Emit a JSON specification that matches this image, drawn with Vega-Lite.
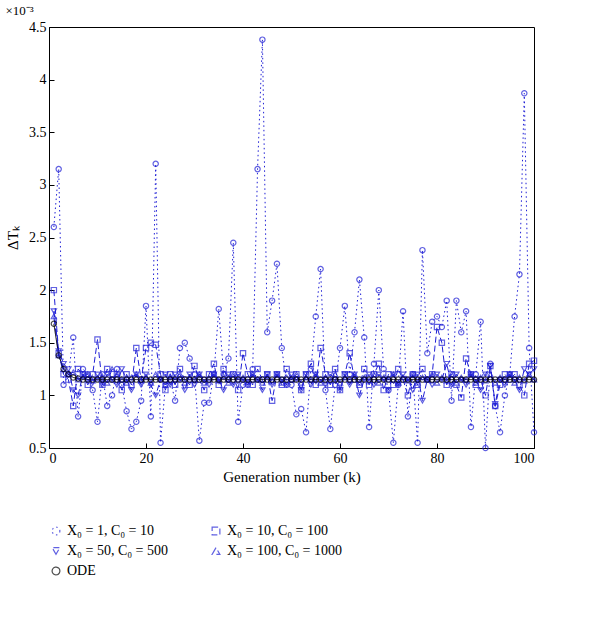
{
  "$schema": "https://vega.github.io/schema/vega-lite/v6.json",
  "width": 485,
  "height": 421,
  "padding": {"left": 5, "top": 5, "right": 25, "bottom": 5},
  "background": "white",
  "title": {"text": "×10⁻³", "anchor": "start", "fontSize": 13, "font": "Liberation Serif", "fontWeight": "normal", "offset": 2},
  "config": {
    "font": "Liberation Serif",
    "view": {"stroke": "black", "strokeWidth": 1},
    "axis": {"grid": false, "domainColor": "black", "tickColor": "black", "labelColor": "black", "titleColor": "black", "labelFontSize": 14, "titleFontSize": 15, "titleFontWeight": "normal", "tickSize": -5, "labelPadding": 8}
  },
  "data": {"values": [
    {"k":1,"a":2.6,"b":2.0,"c":1.8,"d":1.75,"e":1.68},
    {"k":2,"a":3.15,"b":1.4,"c":1.42,"d":1.38,"e":1.38},
    {"k":3,"a":1.1,"b":1.2,"c":1.3,"d":1.25,"e":1.25},
    {"k":4,"a":1.2,"b":1.15,"c":1.25,"d":1.2,"e":1.2},
    {"k":5,"a":1.55,"b":0.9,"c":1.05,"d":1.22,"e":1.17},
    {"k":6,"a":0.8,"b":1.25,"c":1.0,"d":1.15,"e":1.16},
    {"k":7,"a":1.25,"b":1.2,"c":1.2,"d":1.18,"e":1.15},
    {"k":8,"a":1.2,"b":1.1,"c":1.15,"d":1.2,"e":1.15},
    {"k":9,"a":1.05,"b":1.2,"c":1.12,"d":1.14,"e":1.15},
    {"k":10,"a":0.75,"b":1.53,"c":1.2,"d":1.16,"e":1.15},
    {"k":11,"a":1.2,"b":1.1,"c":1.1,"d":1.18,"e":1.15},
    {"k":12,"a":0.9,"b":1.25,"c":1.2,"d":1.12,"e":1.15},
    {"k":13,"a":1.0,"b":1.15,"c":1.15,"d":1.25,"e":1.15},
    {"k":14,"a":1.25,"b":1.2,"c":1.1,"d":1.2,"e":1.15},
    {"k":15,"a":1.1,"b":1.05,"c":1.25,"d":1.15,"e":1.15},
    {"k":16,"a":0.85,"b":1.2,"c":1.15,"d":1.12,"e":1.15},
    {"k":17,"a":0.68,"b":1.1,"c":1.05,"d":1.17,"e":1.15},
    {"k":18,"a":0.75,"b":1.45,"c":1.2,"d":1.2,"e":1.15},
    {"k":19,"a":0.95,"b":1.15,"c":1.1,"d":1.14,"e":1.15},
    {"k":20,"a":1.85,"b":1.45,"c":1.2,"d":1.18,"e":1.15},
    {"k":21,"a":0.8,"b":1.5,"c":1.1,"d":1.12,"e":1.15},
    {"k":22,"a":3.2,"b":1.48,"c":1.0,"d":1.2,"e":1.15},
    {"k":23,"a":0.55,"b":1.2,"c":1.15,"d":1.15,"e":1.15},
    {"k":24,"a":1.1,"b":1.05,"c":1.2,"d":1.1,"e":1.15},
    {"k":25,"a":1.15,"b":1.2,"c":1.1,"d":1.18,"e":1.15},
    {"k":26,"a":0.95,"b":1.1,"c":1.2,"d":1.15,"e":1.15},
    {"k":27,"a":1.45,"b":1.25,"c":1.15,"d":1.2,"e":1.15},
    {"k":28,"a":1.5,"b":1.15,"c":1.05,"d":1.12,"e":1.15},
    {"k":29,"a":1.35,"b":1.1,"c":1.2,"d":1.17,"e":1.15},
    {"k":30,"a":1.2,"b":1.28,"c":1.1,"d":1.15,"e":1.15},
    {"k":31,"a":0.57,"b":1.15,"c":1.2,"d":1.2,"e":1.15},
    {"k":32,"a":0.93,"b":1.05,"c":1.15,"d":1.12,"e":1.15},
    {"k":33,"a":0.93,"b":1.2,"c":1.1,"d":1.16,"e":1.15},
    {"k":34,"a":1.2,"b":1.3,"c":1.2,"d":1.2,"e":1.15},
    {"k":35,"a":1.82,"b":1.1,"c":1.15,"d":1.14,"e":1.15},
    {"k":36,"a":1.2,"b":1.25,"c":1.05,"d":1.18,"e":1.15},
    {"k":37,"a":1.35,"b":1.15,"c":1.2,"d":1.12,"e":1.15},
    {"k":38,"a":2.45,"b":1.2,"c":1.1,"d":1.2,"e":1.15},
    {"k":39,"a":0.75,"b":1.05,"c":1.2,"d":1.15,"e":1.15},
    {"k":40,"a":1.1,"b":1.4,"c":1.15,"d":1.17,"e":1.15},
    {"k":41,"a":1.1,"b":1.2,"c":1.1,"d":1.13,"e":1.15},
    {"k":42,"a":1.25,"b":1.1,"c":1.2,"d":1.2,"e":1.15},
    {"k":43,"a":3.15,"b":1.25,"c":1.15,"d":1.15,"e":1.15},
    {"k":44,"a":4.38,"b":1.15,"c":1.05,"d":1.12,"e":1.15},
    {"k":45,"a":1.6,"b":1.2,"c":1.2,"d":1.18,"e":1.15},
    {"k":46,"a":1.9,"b":0.95,"c":1.1,"d":1.14,"e":1.15},
    {"k":47,"a":2.25,"b":1.2,"c":1.2,"d":1.2,"e":1.15},
    {"k":48,"a":1.45,"b":1.1,"c":1.15,"d":1.12,"e":1.15},
    {"k":49,"a":1.1,"b":1.25,"c":1.1,"d":1.17,"e":1.15},
    {"k":50,"a":1.1,"b":1.15,"c":1.2,"d":1.15,"e":1.15},
    {"k":51,"a":0.82,"b":1.2,"c":1.15,"d":1.2,"e":1.15},
    {"k":52,"a":0.87,"b":1.05,"c":1.05,"d":1.12,"e":1.15},
    {"k":53,"a":0.65,"b":1.2,"c":1.2,"d":1.17,"e":1.15},
    {"k":54,"a":1.25,"b":1.3,"c":1.1,"d":1.15,"e":1.15},
    {"k":55,"a":1.75,"b":1.1,"c":1.2,"d":1.2,"e":1.15},
    {"k":56,"a":2.2,"b":1.45,"c":1.15,"d":1.12,"e":1.15},
    {"k":57,"a":1.05,"b":1.2,"c":1.1,"d":1.17,"e":1.15},
    {"k":58,"a":0.68,"b":1.1,"c":1.2,"d":1.14,"e":1.15},
    {"k":59,"a":1.1,"b":1.25,"c":1.15,"d":1.2,"e":1.15},
    {"k":60,"a":1.45,"b":1.05,"c":1.05,"d":1.12,"e":1.15},
    {"k":61,"a":1.85,"b":1.2,"c":1.2,"d":1.17,"e":1.15},
    {"k":62,"a":1.2,"b":1.4,"c":1.1,"d":1.15,"e":1.15},
    {"k":63,"a":1.6,"b":1.15,"c":1.2,"d":1.2,"e":1.15},
    {"k":64,"a":2.1,"b":1.1,"c":1.0,"d":1.12,"e":1.15},
    {"k":65,"a":1.55,"b":1.25,"c":1.15,"d":1.17,"e":1.15},
    {"k":66,"a":0.7,"b":1.1,"c":1.2,"d":1.14,"e":1.15},
    {"k":67,"a":1.3,"b":1.2,"c":1.1,"d":1.2,"e":1.15},
    {"k":68,"a":2.0,"b":1.3,"c":1.2,"d":1.12,"e":1.15},
    {"k":69,"a":1.25,"b":1.05,"c":1.15,"d":1.17,"e":1.15},
    {"k":70,"a":1.05,"b":1.2,"c":1.05,"d":1.15,"e":1.15},
    {"k":71,"a":0.55,"b":1.1,"c":1.2,"d":1.2,"e":1.15},
    {"k":72,"a":1.1,"b":1.25,"c":1.1,"d":1.12,"e":1.15},
    {"k":73,"a":1.8,"b":1.15,"c":1.2,"d":1.17,"e":1.15},
    {"k":74,"a":0.8,"b":1.0,"c":1.15,"d":1.14,"e":1.15},
    {"k":75,"a":1.2,"b":1.2,"c":1.05,"d":1.2,"e":1.15},
    {"k":76,"a":0.55,"b":1.1,"c":1.2,"d":1.12,"e":1.15},
    {"k":77,"a":2.38,"b":1.25,"c":0.95,"d":1.17,"e":1.15},
    {"k":78,"a":1.4,"b":1.15,"c":1.15,"d":1.15,"e":1.15},
    {"k":79,"a":1.7,"b":1.2,"c":1.1,"d":1.2,"e":1.15},
    {"k":80,"a":1.75,"b":1.65,"c":1.2,"d":1.12,"e":1.15},
    {"k":81,"a":1.65,"b":1.5,"c":1.15,"d":1.17,"e":1.15},
    {"k":82,"a":1.9,"b":1.1,"c":1.3,"d":1.14,"e":1.15},
    {"k":83,"a":0.95,"b":1.2,"c":1.1,"d":1.2,"e":1.15},
    {"k":84,"a":1.9,"b":1.1,"c":1.2,"d":1.12,"e":1.15},
    {"k":85,"a":1.6,"b":0.98,"c":1.15,"d":1.17,"e":1.15},
    {"k":86,"a":1.8,"b":1.35,"c":1.1,"d":1.15,"e":1.15},
    {"k":87,"a":0.7,"b":1.2,"c":1.2,"d":1.2,"e":1.15},
    {"k":88,"a":1.2,"b":1.1,"c":1.15,"d":1.12,"e":1.15},
    {"k":89,"a":1.7,"b":1.15,"c":1.05,"d":1.17,"e":1.15},
    {"k":90,"a":0.5,"b":1.0,"c":1.2,"d":1.14,"e":1.15},
    {"k":91,"a":1.3,"b":1.28,"c":1.28,"d":1.2,"e":1.15},
    {"k":92,"a":0.9,"b":0.9,"c":0.92,"d":1.12,"e":1.15},
    {"k":93,"a":0.65,"b":1.1,"c":1.15,"d":1.17,"e":1.15},
    {"k":94,"a":1.0,"b":1.2,"c":1.1,"d":1.15,"e":1.15},
    {"k":95,"a":1.2,"b":1.15,"c":1.2,"d":1.2,"e":1.15},
    {"k":96,"a":1.75,"b":1.2,"c":1.15,"d":1.12,"e":1.15},
    {"k":97,"a":2.15,"b":1.1,"c":1.05,"d":1.17,"e":1.15},
    {"k":98,"a":3.87,"b":1.0,"c":1.25,"d":1.14,"e":1.15},
    {"k":99,"a":1.45,"b":1.3,"c":1.2,"d":1.2,"e":1.15},
    {"k":100,"a":0.65,"b":1.33,"c":1.25,"d":1.15,"e":1.15}
  ]},
  "transform": [
    {"fold": ["a", "b", "c", "d", "e"], "as": ["key", "v"]},
    {"lookup": "key", "from": {"data": {"values": [
      {"key": "a", "series": "X₀ = 1, C₀ = 10"},
      {"key": "b", "series": "X₀ = 10, C₀ = 100"},
      {"key": "c", "series": "X₀ = 50, C₀ = 500"},
      {"key": "d", "series": "X₀ = 100, C₀ = 1000"},
      {"key": "e", "series": "ODE"}
    ]}, "key": "key", "fields": ["series"]}}
  ],
  "encoding": {
    "x": {"field": "k", "type": "quantitative", "scale": {"domain": [0, 100], "nice": false}, "title": "Generation number (k)", "axis": {"values": [0, 20, 40, 60, 80, 100]}},
    "y": {"field": "v", "type": "quantitative", "scale": {"domain": [0.5, 4.5], "nice": false}, "title": "ΔTₖ", "axis": {"values": [0.5, 1, 1.5, 2, 2.5, 3, 3.5, 4, 4.5], "format": "~g", "titleAngle": -90, "titlePadding": 8}},
    "color": {"field": "series", "type": "nominal", "sort": null,
      "scale": {"domain": ["X₀ = 1, C₀ = 10", "X₀ = 10, C₀ = 100", "X₀ = 50, C₀ = 500", "X₀ = 100, C₀ = 1000", "ODE"], "range": ["#1f1fd6", "#1f1fd6", "#1f1fd6", "#1f1fd6", "black"]},
      "legend": {"orient": "bottom", "columns": 2, "title": null, "labelFontSize": 14, "symbolSize": 60, "symbolStrokeWidth": 1.2, "columnPadding": 40, "rowPadding": 6, "offset": 40}},
    "order": {"field": "k"}
  },
  "layer": [
    {
      "mark": {"type": "line", "strokeWidth": 1},
      "encoding": {
        "strokeDash": {"field": "series", "type": "nominal", "sort": null,
          "scale": {"domain": ["X₀ = 1, C₀ = 10", "X₀ = 10, C₀ = 100", "X₀ = 50, C₀ = 500", "X₀ = 100, C₀ = 1000", "ODE"], "range": [[1.5, 3], [6, 3], [6, 3], [8, 4], [1, 0]]}}
      }
    },
    {
      "mark": {"type": "point", "filled": false, "size": 28, "strokeWidth": 1.2},
      "encoding": {
        "shape": {"field": "series", "type": "nominal", "sort": null,
          "scale": {"domain": ["X₀ = 1, C₀ = 10", "X₀ = 10, C₀ = 100", "X₀ = 50, C₀ = 500", "X₀ = 100, C₀ = 1000", "ODE"], "range": ["circle", "square", "triangle-down", "triangle-up", "circle"]}}
      }
    }
  ]
}
